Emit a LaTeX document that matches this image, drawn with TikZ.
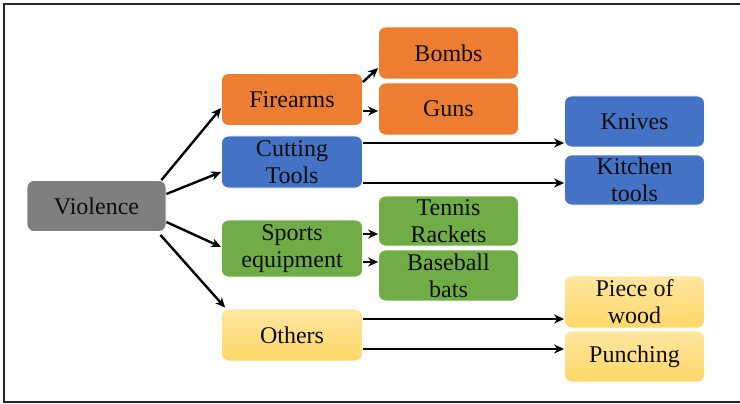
\documentclass[tikz,border=0pt]{standalone}
\usepackage{fontspec}
\setmainfont{Liberation Serif}
\usetikzlibrary{arrows.meta}
\definecolor{cgray}{HTML}{7F7F7F}
\definecolor{corange}{HTML}{ED7D31}
\definecolor{cblue}{HTML}{4472C4}
\definecolor{cgreen}{HTML}{70AD47}
\definecolor{cyellowT}{HTML}{FFE6A0}
\definecolor{cyellowB}{HTML}{FFD868}
\tikzset{
  box/.style={rounded corners=7pt, draw=white, line width=0.8pt, align=center,
    inner sep=0pt, font=\fontsize{24}{27}\selectfont, text=black!95},
  graybox/.style={box, fill=cgray},
  orangebox/.style={box, fill=corange},
  bluebox/.style={box, fill=cblue},
  greenbox/.style={box, fill=cgreen},
  yellowbox/.style={box, top color=cyellowT, bottom color=cyellowB},
  conn/.style={line width=2.4pt, -{Stealth[length=10pt,width=9pt]}},
}
\begin{document}
\begin{tikzpicture}[x=1pt,y=-1pt]
\useasboundingbox (0,0) rectangle (740,404);
\draw[line width=1.5pt, black!85] (742,4) -- (4,4) -- (4,402) -- (742,402);
% level 0
\node[graybox, minimum width=139pt, minimum height=51pt] (vio) at (96.5,206) {Violence};
% level 1
\node[orangebox, minimum width=141pt, minimum height=52pt] (fire) at (292,99.5) {Firearms};
\node[bluebox, minimum width=141pt, minimum height=52pt] (cut) at (292,162) {Cutting\\Tools};
\node[greenbox, minimum width=141pt, minimum height=57pt] (sport) at (292,248.5) {Sports\\equipment};
\node[yellowbox, minimum width=141pt, minimum height=52pt] (oth) at (292,335) {Others};
% level 2
\node[orangebox, minimum width=140pt, minimum height=52pt] (bomb) at (448.5,53) {Bombs};
\node[orangebox, minimum width=140pt, minimum height=52pt] (gun) at (448.5,109) {Guns};
\node[greenbox, minimum width=140pt, minimum height=50pt] (ten) at (448.5,221) {Tennis\\Rackets};
\node[greenbox, minimum width=140pt, minimum height=51pt] (base) at (448.5,275.5) {Baseball\\bats};
\node[bluebox, minimum width=140pt, minimum height=51pt] (knife) at (634.5,121.5) {Knives};
\node[bluebox, minimum width=140pt, minimum height=50pt] (kit) at (634.5,180) {Kitchen\\tools};
\node[yellowbox, minimum width=140pt, minimum height=52pt] (wood) at (634.5,302) {Piece of\\wood};
\node[yellowbox, minimum width=140pt, minimum height=51pt] (punch) at (634.5,356.5) {Punching};
% connectors from Violence
\draw[conn] ([xshift=-5pt]vio.north east) -- ([yshift=-8.5pt]fire.west);
\draw[conn] ([yshift=12pt]vio.east) -- ([yshift=-10pt]cut.west);
\draw[conn] ([yshift=-16pt]vio.east) -- ([yshift=1.5pt]sport.west);
\draw[conn] ([xshift=-6pt,yshift=-3pt]vio.south east) -- ([xshift=4pt,yshift=1pt]oth.north west);
% level 1 -> level 2
\draw[conn] ([yshift=17.5pt]fire.east) -- ([yshift=-15pt]bomb.west);
\draw[conn] ([yshift=-11.5pt]fire.east) -- ([yshift=-2pt]gun.west);
\draw[conn] ([yshift=19pt]cut.east) -- ([yshift=-21.5pt]knife.west);
\draw[conn] ([yshift=-21pt]cut.east) -- ([yshift=-3pt]kit.west);
\draw[conn] ([yshift=14.5pt]sport.east) -- ([yshift=-13pt]ten.west);
\draw[conn] ([yshift=-13.5pt]sport.east) -- ([yshift=13.5pt]base.west);
\draw[conn] ([yshift=16pt]oth.east) -- ([yshift=-17pt]wood.west);
\draw[conn] ([yshift=-14pt]oth.east) -- ([yshift=7.5pt]punch.west);
\end{tikzpicture}
\end{document}
